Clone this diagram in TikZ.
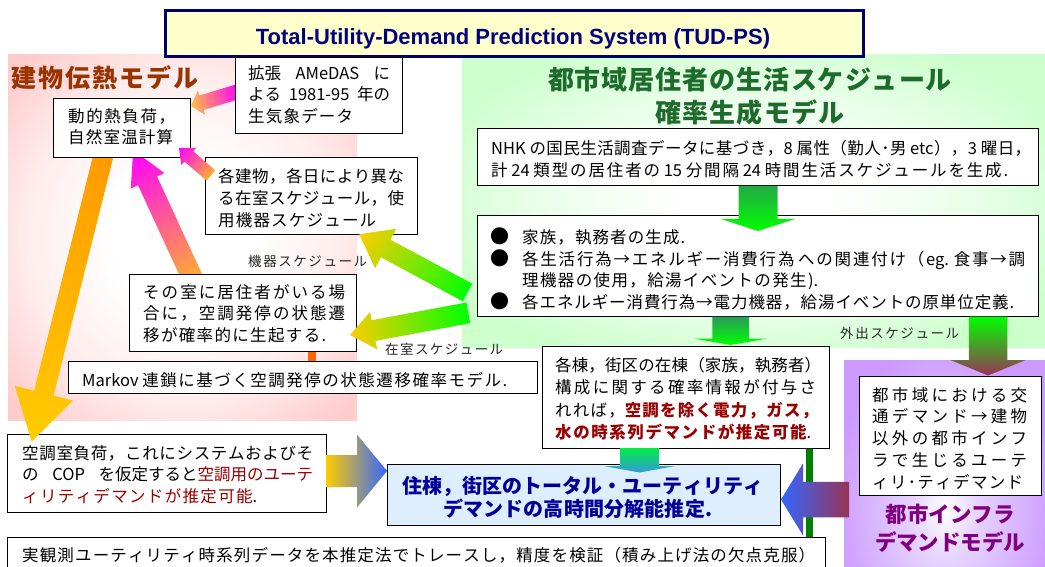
\documentclass[tikz,border=0pt]{standalone}
\usepackage{fontspec}
\newfontfamily\jp{Noto Sans CJK JP}
\newfontfamily\arialf{Liberation Sans}
% stretchable gaps between CJK characters (for justified lines)
\newcount\cjkc
\cjkc="3000
\loop \XeTeXcharclass\cjkc=1 \advance\cjkc by 1 \ifnum\cjkc<"A000 \repeat
\cjkc="FF00
\loop \XeTeXcharclass\cjkc=1 \advance\cjkc by 1 \ifnum\cjkc<"FFF0 \repeat
\XeTeXcharclass"2192=1
\XeTeXcharclass"25CF=1
\XeTeXinterchartokenstate=1
\XeTeXinterchartoks 1 1 = {\hskip 0pt plus 1fil minus 0.6pt}
\XeTeXinterchartoks 0 1 = {\hskip 0pt plus 1fil minus 0.6pt}
\XeTeXinterchartoks 1 0 = {\hskip 0pt plus 1fil minus 0.6pt}
\newcommand\jl[2]{\hbox to #1pt{#2}}
\newcommand\bul{{\fontsize{19}{19}\selectfont ●}}

\definecolor{pinkbg}{HTML}{FFCCCC}
\definecolor{pinkmid}{HTML}{FFEDED}
\definecolor{greenbg}{HTML}{CCFFCC}
\definecolor{greenmid}{HTML}{EAFFEA}
\definecolor{purplebg}{HTML}{CC99FF}
\definecolor{purplemid}{HTML}{E6D4FF}
\definecolor{navyb}{HTML}{000066}
\definecolor{navyt}{HTML}{000080}
\definecolor{titlefill}{HTML}{FFFFCC}
\definecolor{brownt}{HTML}{993300}
\definecolor{greent}{HTML}{1E6B2E}
\definecolor{purplet}{HTML}{800080}
\definecolor{redt}{HTML}{990000}
\definecolor{tudblue}{HTML}{000099}
\definecolor{tudfill}{HTML}{DDEEFF}
\definecolor{darkgreen}{HTML}{008000}
\definecolor{orangec}{HTML}{FF6600}
\definecolor{magA}{HTML}{FF00FF}
\definecolor{orA}{HTML}{FFB030}
\definecolor{goldA}{HTML}{FFCC00}
\definecolor{goldB}{HTML}{FFC040}
\definecolor{orB}{HTML}{FF9900}
\definecolor{grA}{HTML}{00FF00}
\definecolor{grB}{HTML}{22AA44}
\definecolor{grC}{HTML}{2A9A5A}
\definecolor{grD}{HTML}{00EE44}
\definecolor{blA}{HTML}{3399DD}
\definecolor{blB}{HTML}{3366FF}
\definecolor{maroon}{HTML}{993355}

\pgfdeclareradialshading{pinkglow}{\pgfpoint{0bp}{0bp}}{color(0bp)=(white); color(10bp)=(white); color(22bp)=(pinkmid); color(33bp)=(pinkbg); color(50bp)=(pinkbg)}
\pgfdeclareradialshading{greenglow}{\pgfpoint{0bp}{0bp}}{color(0bp)=(white); color(6bp)=(white); color(18bp)=(greenmid); color(30bp)=(greenbg); color(50bp)=(greenbg)}
\pgfdeclareradialshading{purpleglow}{\pgfpoint{0bp}{0bp}}{color(0bp)=(white); color(8bp)=(purplemid); color(28bp)=(purplebg); color(50bp)=(purplebg)}

% fat shaded arrow: #1 tail coord, #2 tip coord, #3 shaft width, #4 head width, #5 head length, #6 tail colour, #7 tip colour
\newcommand\fatarrow[7]{%
  \path (#1); \pgfgetlastxy\faX\faY
  \path (#2); \pgfgetlastxy\fbX\fbY
  \pgfmathsetmacro\faang{atan2((\fbY)-(\faY),(\fbX)-(\faX))}%
  \pgfmathsetmacro\falen{veclen((\fbX)-(\faX),(\fbY)-(\faY))}%
  \pgfmathsetmacro\fahb{\falen-#5}%
  \begin{scope}[transform canvas={shift={(\faX,\faY)},rotate=\faang}]
    \shade[left color=#6,right color=#7]
      (0pt,{-0.5*#3pt}) -- (\fahb pt,{-0.5*#3pt}) -- (\fahb pt,{-0.5*#4pt}) -- (\falen pt,0pt)
      -- (\fahb pt,{0.5*#4pt}) -- (\fahb pt,{0.5*#3pt}) -- (0pt,{0.5*#3pt}) -- cycle;
  \end{scope}}

\begin{document}
\begin{tikzpicture}[x=1pt,y=-1pt,
  box/.style={draw=black,line width=0.9pt,fill=white,inner sep=0pt,anchor=north west},
  txt/.style={inner sep=0pt,anchor=north west,align=left,font=\jp\fontsize{16.5}{#1}\selectfont},
  txt/.default=21.8,
  lbl/.style={inner sep=0pt,anchor=north west,font=\jp\fontsize{13.5}{16}\selectfont,text=black!85}]

\useasboundingbox (0,0) rectangle (1045,567);
\fill[white] (0,0) rectangle (1045,567);

% model regions
\shade[shading=pinkglow] (8,55) rectangle (357,420);
\shade[shading=greenglow] (462,55) rectangle (1045,347);
\begin{scope}
  \clip (844,360) rectangle (1045,567);
  \shade[shading=purpleglow] (844,360) rectangle (1045,660);
\end{scope}

% title
\node[draw=navyb,line width=3pt,fill=titlefill,minimum width=698pt,minimum height=46.4pt,anchor=north west,inner sep=0pt] (title) at (164.2,8.8) {};
\node[inner sep=0pt,anchor=base,font=\arialf\bfseries\fontsize{22}{26}\selectfont,text=navyt] (titleT) at (513,45) {Total-Utility-Demand Prediction System (TUD-PS)};

% region titles
\node[inner sep=0pt,anchor=north west,font=\jp\bfseries\fontsize{25}{30}\selectfont,text=brownt] (regA) at (11,65) {\jl{187}{建物伝熱モデル}};
\node[inner sep=0pt,anchor=north,align=center,font=\jp\bfseries\fontsize{26}{33}\selectfont,text=greent] (regB) at (750,67) {\jl{404}{都市域居住者の生活スケジュール}\\\jl{189}{確率生成モデル}};
\node[inner sep=0pt,anchor=north,align=center,font=\jp\bfseries\fontsize{21.5}{28}\selectfont,text=purplet] (regC) at (950,504) {\jl{129}{都市インフラ}\\\jl{150}{デマンドモデル}};

% coordinates for arrow ends
\coordinate (a1t) at (240,91);    \coordinate (a1h) at (191,106);
\coordinate (a2t) at (211,175.5); \coordinate (a2h) at (179,148);
\coordinate (a3t) at (194.2,282.1); \coordinate (a3h) at (133.3,150);
\coordinate (a4t) at (104.5,151.2); \coordinate (a4h) at (31.7,441.7);
\coordinate (a5t) at (467.5,292.5); \coordinate (a5h) at (359.3,234.3);
\coordinate (a6t) at (468.3,312.8); \coordinate (a6h) at (350,335);
\coordinate (v1t) at (758,186);   \coordinate (v1h) at (758,231);
\coordinate (v2t) at (730.5,316.5); \coordinate (v2h) at (730.5,345);
\coordinate (v3t) at (639.5,448); \coordinate (v3h) at (639.5,472.5);
\coordinate (v4t) at (988,316.5); \coordinate (v4h) at (988,375.5);
\coordinate (h1t) at (326,471);   \coordinate (h1h) at (387,471);
\coordinate (h2t) at (849,499.5); \coordinate (h2h) at (781,499.5);
\coordinate (gl) at (809,0);
\coordinate (oc) at (311.5,0);

% box under arrow A4 head
\node[box,minimum width=318.7pt,minimum height=77.7pt] (aclb) at (7.3,434) {};

% arrows passing under boxes
\fatarrow{a1t}{a1h}{15}{25}{11}{magA}{goldB}
\fatarrow{a3t}{a3h}{21}{37}{34}{orA}{magA}
\fatarrow{a4t}{a4h}{20}{60}{50}{orB}{goldA}

% boxes
\node[box,minimum width=166.7pt,minimum height=75.7pt] (amedas) at (235,57) {};
\node[box,minimum width=136.7pt,minimum height=59pt] (heat) at (53.3,98.3) {};
\node[box,minimum width=211.7pt,minimum height=77.6pt] (sched) at (205,156.7) {};
\node[box,minimum width=226.7pt,minimum height=77pt] (occ) at (129.3,274) {};
\node[box,minimum width=469pt,minimum height=31.7pt] (markov) at (68.3,361) {};
\node[box,minimum width=560.7pt,minimum height=56.7pt] (nhk) at (477.3,128.3) {};
\node[box,minimum width=560.7pt,minimum height=101pt] (bullet) at (477.3,215) {};
\node[box,minimum width=286.9pt,minimum height=102.1pt] (kaku) at (541.8,346.3) {};
\node[box,minimum width=181.6pt,minimum height=119pt] (infra) at (859,376) {};
\node[box,minimum width=817.7pt,minimum height=50pt] (bottomb) at (7.3,536.7) {};
\node[box,fill=tudfill,minimum width=393pt,minimum height=61pt] (tud) at (387,464) {};

% connectors
\draw[orangec,line width=8pt] (occ.south -| oc) -- (markov.north -| oc);
\draw[darkgreen,line width=7pt] (kaku.south -| gl) -- (bottomb.north -| gl);

\fatarrow{a2t}{a2h}{13.5}{23}{13}{orA}{magA}
\fatarrow{a5t}{a5h}{20}{45}{30}{grA}{goldA}
\fatarrow{a6t}{a6h}{21}{38}{24}{grA}{goldA}
\fatarrow{v1t}{v1h}{39}{74}{12}{grB}{grA}
\fatarrow{v2t}{v2h}{36.5}{74}{6.5}{grC}{grA}
\fatarrow{v3t}{v3h}{39}{72}{6.5}{grD}{blA}
\fatarrow{v4t}{v4h}{38.5}{75.5}{15.5}{grA}{maroon}
\fatarrow{h1t}{h1h}{32}{73}{30}{goldA}{blB}
\fatarrow{h2t}{h2h}{35.5}{72}{22}{maroon}{blB}

% texts
\node[txt=21.7] (amedasT) at (248,65) {\jl{142}{拡張 \hfill AMeDAS \hfill に}\\\jl{142}{よる \hfill 1981-95 \hfill 年の}\\\jl{105}{生気象データ}};
\node[txt=21.7] (heatT) at (68,108) {\jl{107}{動的熱負荷，}\\\jl{105}{自然室温計算}};
\node[txt=22] (schedT) at (218,168) {\jl{186}{各建物，各日により異な}\\\jl{186}{る在室スケジュール，使}\\\jl{158}{用機器スケジュール}};
\node[txt=21.8] (occT) at (143,284) {\jl{202}{その室に居住者がいる場}\\\jl{202}{合に，空調発停の状態遷}\\\jl{183}{移が確率的に生起する.}};
\node[txt] (markovT) at (82,372) {\jl{425}{Markov 連鎖に基づく空調発停の状態遷移確率モデル.}};
\node[txt=22.5] (nhkT) at (491,140) {\jl{540}{NHK の国民生活調査データに基づき，8 属性（勤人･男 etc），3 曜日，}\\\jl{517}{計 24 類型の居住者の 15 分間隔 24 時間生活スケジュールを生成.}};
\node[txt=21.4] (bulletT) at (490,228) {\hbox{\hbox to 32pt{\bul\hss}\jl{163}{家族，執務者の生成.}}\\\hbox{\hbox to 32pt{\bul\hss}\jl{503}{各生活行為→エネルギー消費行為 への関連付け（eg. 食事→調}}\\\hbox{\hbox to 32pt{\hss}\jl{296}{理機器の使用，給湯イベントの発生).}}\\\hbox{\hbox to 32pt{\bul\hss}\jl{492}{各エネルギー消費行為→電力機器，給湯イベントの原単位定義.}}};
\node[txt=22.4] (kakuT) at (555,357) {\jl{266}{各棟，街区の在棟（家族，執務者）}\\\jl{261}{構成に関する確率情報が付与さ}\\\jl{263}{れれば，{\bfseries\color{redt}空調を除く電力，ガス，}}\\\jl{256}{{\bfseries\color{redt}水の時系列デマンドが推定可能}.}};
\node[txt=21.8] (infraT) at (872,387) {\jl{155}{都市域における交}\\\jl{155}{通デマンド→建物}\\\jl{155}{以外の都市インフ}\\\jl{155}{ラで生じるユーテ}\\\jl{151}{ィリ･ティデマンド}};
\node[txt=21.7] (aclbT) at (22,445) {\jl{291}{空調室負荷，これにシステムおよびそ}\\\jl{291}{の \hfill COP \hfill を仮定すると{\color{redt}空調用のユーテ}}\\\jl{235}{{\color{redt}ィリティデマンドが推定可能}.}};
\node[txt] (bottomT) at (22,547) {\jl{793}{実観測ユーティリティ時系列データを本推定法でトレースし，精度を検証（積み上げ法の欠点克服）}};
\node[inner sep=0pt,anchor=north west,align=left,font=\jp\bfseries\fontsize{20}{23}\selectfont,text=tudblue] (tudT) at (402,476) {\jl{361}{住棟，街区のトータル・ユーティリティ}\\\hbox{\hskip41pt\jl{269}{デマンドの高時間分解能推定.}}};

% labels
\node[lbl] (lblA) at (248,255) {\jl{119}{機器スケジュール}};
\node[lbl] (lblB) at (385,343) {\jl{118}{在室スケジュール}};
\node[lbl] (lblC) at (840,327) {\jl{119}{外出スケジュール}};
\end{tikzpicture}
\end{document}
